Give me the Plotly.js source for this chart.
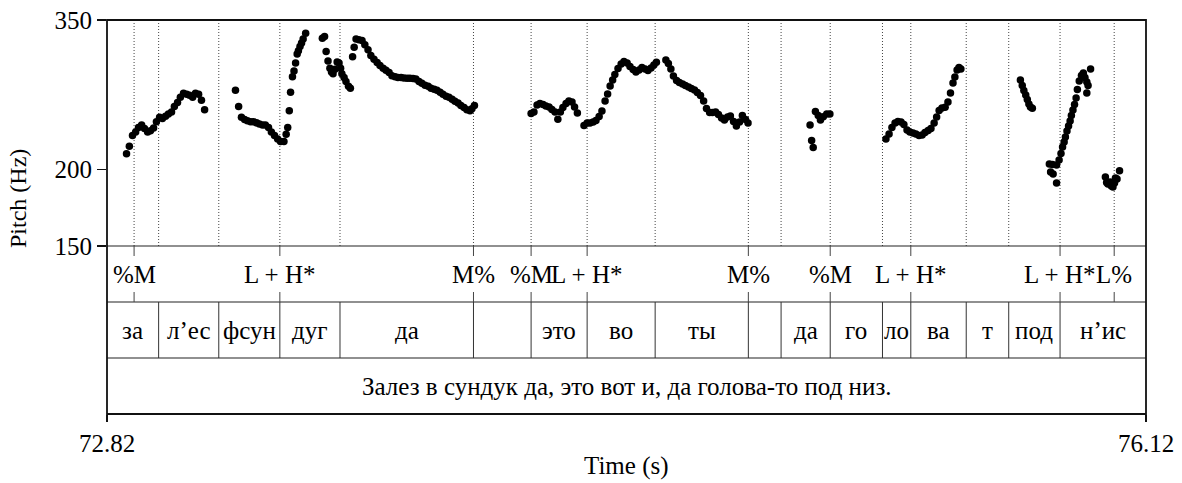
<!DOCTYPE html>
<html>
<head>
<meta charset="utf-8">
<script src="https://cdn.plot.ly/plotly-3.0.1.min.js"></script>
<style>html,body{margin:0;padding:0;background:#fff;}#chart{width:1182px;height:483px;}</style>
</head>
<body>
<div id="chart"></div>
<script>
// ---- Data ----
const timeRange = [72.82, 76.12];
const pitchTicks = [150, 200, 350];
const pitchRange = [150, 350];

const pitchTime = [
  72.882,72.891,72.901,72.911,72.920,72.930,72.939,72.949,72.958,72.968,72.977,72.987,72.996,73.006,73.015,73.025,73.034,73.044,73.053,73.063,73.073,73.082,73.092,73.101,73.111,73.120,73.130,
  73.228,73.238,73.247,73.257,73.266,73.276,73.285,73.295,73.304,73.314,73.323,73.333,73.342,73.352,73.362,73.371,
  73.382,73.389,73.394,73.399,73.403,73.409,73.414,73.419,73.424,73.428,73.433,73.438,73.443,73.451,
  73.504,73.511,73.516,73.522,73.528,73.533,73.538,73.544,73.551,73.557,73.562,73.566,73.573,73.579,73.587,73.593,
  73.600,73.605,73.611,73.620,73.630,73.639,73.649,73.658,73.668,73.678,73.687,73.697,73.706,73.716,73.725,73.735,73.744,73.754,73.763,73.773,73.782,73.792,73.801,73.811,73.820,73.830,73.840,73.849,73.859,73.868,73.878,73.887,73.897,73.906,73.916,73.925,73.935,73.944,73.954,73.963,73.973,73.979,73.987,
  74.167,74.176,74.186,74.195,74.205,74.214,74.224,74.233,74.243,74.252,74.260,74.268,74.278,74.287,74.297,74.305,74.314,
  74.335,74.345,74.354,74.364,74.373,74.383,74.392,74.402,74.410,74.418,74.426,74.433,74.443,74.453,74.462,74.472,74.481,74.491,74.500,74.510,74.519,74.529,74.538,74.548,74.557,74.565,
  74.595,74.603,74.611,74.619,74.629,74.638,74.648,74.657,74.667,74.676,74.686,74.695,74.705,74.715,74.724,74.734,74.743,74.753,74.762,74.772,74.781,74.791,74.800,74.810,74.819,74.829,74.838,74.848,74.856,
  75.053,75.058,75.063,75.070,75.079,75.086,75.095,75.106,75.116,
  75.294,75.304,75.313,75.323,75.332,75.342,75.351,75.361,75.370,75.380,75.389,75.399,75.409,75.418,75.428,75.437,75.447,75.455,75.463,75.472,75.482,75.491,75.499,75.507,75.513,75.520,75.526,75.532,
  75.721,75.727,75.732,75.738,75.743,75.748,75.753,75.759,
  75.813,75.823,75.817,75.825,75.836,75.836,75.844,75.850,75.855,75.860,75.864,75.869,75.874,75.879,75.883,75.888,75.893,75.898,75.902,75.908,75.915,75.921,75.926,75.932,75.936,75.932,75.944,
  75.991,75.995,75.999,76.006,76.010,76.015,76.020,76.023,76.028,76.036
];
const pitchHz = [
  212,218,227,230,234,236,233,230,231,233.5,239,243,242,244,246,248,253,257,262,266,265,264,262,266,265,259,250,
  269,253,243,241,240,239,239,238,237,236,236,234,230,227,224,222,
  222,228,234,249,267,283,289,298,308,312,317,321,326,333,
  327,329,311,300,292,288,286,291,299,298,292,286,282,278,273,271,
  305,316,326,325,324,319,313,306.5,302,298.5,295,292,290,287.5,284,283,282,282,281.6,281.3,281.3,281,280.6,278,276,274,273,271,270,269,267,265,263,262,260,258,256.5,254,252,250,249,251,254,
  246.6,248,254.6,256,255,253.6,252.6,250.3,248,241.2,248,252.2,256,258.3,257.4,252.6,247,
  235.7,237.9,237.9,238.8,240.2,243.8,248.9,258.3,265.2,273.3,279.5,285.3,291.9,296.9,299.7,298,294.1,290.8,288.1,290.2,293,291.3,289.7,292.4,295.8,298.6,
  301.3,297.4,291.3,283.8,279,276.9,275.4,273.9,272.3,270.8,269.2,266.7,263.8,258.3,251.2,247.5,247.5,248,245.6,242.4,240.6,243.4,244.3,239.3,235.3,238.8,244.7,241.1,237.9,
  236.2,222.8,217,248.4,244.7,240.6,243.6,246.1,246.1,
  224,228.3,233.9,237.9,239.3,238.8,236.6,231.7,230,229.1,228.3,227,227.5,229.6,231.3,233,237.9,243.4,249.3,251.7,252.3,257.4,266.2,276.4,282.7,290.2,293,291.3,
  279.5,273.9,268.7,264.2,259.8,255.5,252.6,251.4,
  203.9,203.6,198,196.5,190,203.3,207.1,212.2,217.4,221.6,225.8,230.9,235.3,239.7,244.7,249.8,255,261.3,269.7,278.5,284.3,286.9,282.2,277.4,273.9,266.2,291.3,
  194.3,190.3,189.2,190.7,187.9,187.2,189.9,193.6,192.9,198.8
];

const toneTimes  = [72.906, 73.369, 73.984, 74.167, 74.345, 74.857, 75.117, 75.373, 75.847, 76.019];
const toneLabels = ["%M", "L + H*", "M%", "%M", "L + H*", "M%", "%M", "L + H*", "L + H*", "L%"];

const sylBounds = [72.82, 72.984, 73.175, 73.369, 73.560, 73.984, 74.167, 74.345, 74.561, 74.857, 74.961, 75.117, 75.283, 75.373, 75.549, 75.684, 75.847, 76.12];
const sylLabels = ["за", "л’ес", "фсун", "дуг", "да", "", "это", "во", "ты", "", "да", "го", "ло", "ва", "т", "под", "н’ис"];

const sentenceText = "Залез в сундук да, это вот и, да голова-то под низ.";
const xTickText = ["72.82", "76.12"];
const yTitle = "Pitch (Hz)";
const xTitle = "Time (s)";

// ---- Layout geometry (paper fractions) ----
const plotH = 394;
const yPitchBottom = 168 / plotH;
const yTier1Bottom = 112 / plotH;
const yTier2Bottom = 56 / plotH;
const markLen = 10 / plotH;

const FONT = "Liberation Serif, Times New Roman, serif";
const FS = 25;

const shapes = [];
const annotations = [];

const guideTimes = Array.from(new Set(toneTimes.concat(sylBounds.slice(1, -1)))).sort((a, b) => a - b);
guideTimes.forEach(t => shapes.push({
  type: "line", xref: "x", yref: "paper", x0: t, x1: t, y0: yPitchBottom, y1: 1,
  line: { color: "#444", width: 1, dash: "1px,2px" }, layer: "below"
}));

[yPitchBottom, yTier1Bottom, yTier2Bottom].forEach(y => shapes.push({
  type: "line", xref: "paper", yref: "paper", x0: 0, x1: 1, y0: y, y1: y,
  line: { color: "#222", width: 1.2 }
}));

toneTimes.forEach(t => {
  shapes.push({ type: "line", xref: "x", yref: "paper", x0: t, x1: t, y0: yPitchBottom - markLen, y1: yPitchBottom,
    line: { color: "#444", width: 1 } });
  shapes.push({ type: "line", xref: "x", yref: "paper", x0: t, x1: t, y0: yTier1Bottom, y1: yTier1Bottom + markLen,
    line: { color: "#444", width: 1 } });
});

sylBounds.slice(1, -1).forEach(t => shapes.push({
  type: "line", xref: "x", yref: "paper", x0: t, x1: t, y0: yTier2Bottom, y1: yTier1Bottom,
  line: { color: "#333", width: 1 }
}));

shapes.push({ type: "rect", xref: "paper", yref: "paper", x0: 0, x1: 1, y0: 0, y1: 1,
  line: { color: "#111", width: 1.8 } });

toneTimes.forEach((t, i) => annotations.push({
  x: t, xref: "x", y: (yPitchBottom + yTier1Bottom) / 2, yref: "paper",
  text: toneLabels[i], showarrow: false, xanchor: "center", yanchor: "middle",
  font: { family: FONT, size: FS, color: "#000" }
}));

sylLabels.forEach((s, i) => {
  if (!s) return;
  annotations.push({
    x: (sylBounds[i] + sylBounds[i + 1]) / 2, xref: "x", y: (yTier1Bottom + yTier2Bottom) / 2, yref: "paper",
    text: s, showarrow: false, xanchor: "center", yanchor: "middle",
    font: { family: FONT, size: FS, color: "#000" }
  });
});

annotations.push({
  x: (timeRange[0] + timeRange[1]) / 2, xref: "x", y: yTier2Bottom / 2, yref: "paper",
  text: sentenceText, showarrow: false, xanchor: "center", yanchor: "middle",
  font: { family: FONT, size: FS, color: "#000" }
});

annotations.push({
  x: (18 - 107) / 1039, xref: "paper", y: (414 - 199) / plotH, yref: "paper",
  text: yTitle, textangle: -90, showarrow: false, xanchor: "center", yanchor: "middle",
  font: { family: FONT, size: FS - 1, color: "#000" }
});
annotations.push({
  x: 0.5, xref: "paper", y: (414 - 466) / plotH, yref: "paper",
  text: xTitle, showarrow: false, xanchor: "center", yanchor: "middle",
  font: { family: FONT, size: FS, color: "#000" }
});

const trace = {
  type: "scatter", mode: "markers", x: pitchTime, y: pitchHz,
  marker: { color: "#000", size: 7.5 }, hoverinfo: "skip", cliponaxis: false
};

const layout = {
  width: 1182, height: 483,
  margin: { l: 107, r: 36, t: 20, b: 69 },
  paper_bgcolor: "#fff", plot_bgcolor: "rgba(0,0,0,0)",
  showlegend: false,
  font: { family: FONT, size: FS, color: "#000" },
  xaxis: {
    range: timeRange, anchor: "free", position: 0,
    tickmode: "array", tickvals: timeRange, ticktext: xTickText,
    ticks: "outside", ticklen: 7, tickwidth: 1.5, tickcolor: "#111",
    showgrid: false, zeroline: false, showline: false,
    tickfont: { family: FONT, size: FS, color: "#000" }
  },
  yaxis: {
    type: "log", domain: [yPitchBottom, 1],
    range: [Math.log10(pitchRange[0]), Math.log10(pitchRange[1])],
    tickmode: "array", tickvals: pitchTicks, ticktext: pitchTicks.map(String),
    ticks: "outside", ticklen: 9, tickwidth: 1.5, tickcolor: "#111",
    showgrid: false, zeroline: false, showline: false,
    tickfont: { family: FONT, size: FS, color: "#000" }
  },
  shapes: shapes,
  annotations: annotations
};

Plotly.newPlot("chart", [trace], layout, { displayModeBar: false, staticPlot: true });
</script>
</body>
</html>
